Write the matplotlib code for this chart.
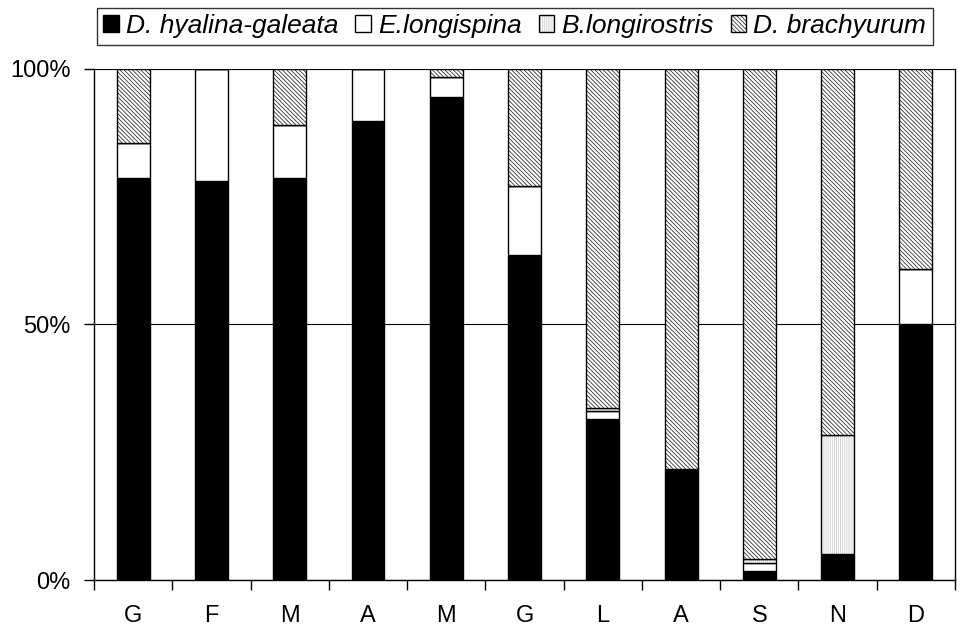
import matplotlib
matplotlib.use("Agg")
import matplotlib.pyplot as plt
import numpy as np

plt.rcParams['font.family'] = ['Liberation Sans', 'DejaVu Sans']
plt.rcParams['hatch.linewidth'] = 0.55

months = ["G", "F", "M", "A", "M", "G", "L", "A", "S", "N", "D"]
species = ["D. hyalina-galeata", "E.longispina", "B.longirostris", "D. brachyurum"]

hyalina = [78.5, 78.0, 78.5, 89.7, 94.4, 63.6, 31.5, 21.5, 1.8, 5.1, 50.0]
longispina = [7.0, 22.0, 10.5, 10.3, 4.0, 13.5, 1.6, 0.3, 1.6, 0.0, 10.9]
longirostris = [0.0, 0.0, 0.0, 0.0, 0.0, 0.0, 0.5, 0.0, 0.7, 23.3, 0.0]
brachyurum = [14.5, 0.0, 11.0, 0.0, 1.6, 22.9, 66.4, 78.2, 95.9, 71.6, 39.1]

series = [hyalina, longispina, longirostris, brachyurum]
styles = [
    dict(facecolor="black", hatch=None),
    dict(facecolor="white", hatch=None),
    dict(facecolor="white", hatch="||||||||", hatch_color="#c8c8c8"),
    dict(facecolor="white", hatch="\\\\\\\\\\\\\\\\", hatch_color="#222222"),
]

fig = plt.figure(figsize=(9.68, 6.31), dpi=100)
ax = fig.add_axes([0.0971, 0.0808, 0.8895, 0.8106])

x = np.arange(len(months))
bottom = np.zeros(len(months))
handles = []
for name, vals, st in zip(species, series, styles):
    vals = np.array(vals, dtype=float)
    bars = ax.bar(x, vals, width=0.42, bottom=bottom, label=name, zorder=3,
                  color=st["facecolor"], edgecolor="black", linewidth=1.0)
    if st["hatch"]:
        for b in bars:
            b.set_hatch(st["hatch"])
            b._hatch_color = matplotlib.colors.to_rgba(st["hatch_color"])
    handles.append(bars)
    bottom += vals

ax.set_xlim(-0.5, len(months) - 0.5)
ax.set_ylim(0, 100)
ax.set_yticks([0, 50, 100])
ax.set_yticklabels(["0%", "50%", "100%"], fontsize=17)
ax.yaxis.grid(True, color="black", linewidth=0.8, zorder=0)
ax.set_axisbelow(True)

ax.set_xticks(x)
ax.set_xticklabels(months, fontsize=17)
ax.tick_params(axis="x", which="major", length=0, pad=18)
ax.set_xticks(np.arange(-0.5, len(months) + 0.5, 1), minor=True)
ax.tick_params(axis="x", which="minor", length=7, width=1, direction="out")
ax.tick_params(axis="y", length=7, width=1, direction="out", pad=10)

for s in ["left", "bottom"]:
    ax.spines[s].set_linewidth(1.0)
for s in ["top", "right"]:
    ax.spines[s].set_visible(False)
ax.plot([1, 1], [0, 1], transform=ax.transAxes, color="black", lw=1.0, clip_on=False)

leg = fig.legend(handles=handles, labels=species, loc="upper left",
                 bbox_to_anchor=(0.1, 0.988), ncol=4, frameon=True,
                 fancybox=False, edgecolor="black",
                 prop=dict(style="italic", size=19),
                 handlelength=0.6, handleheight=0.6, handletextpad=0.25,
                 columnspacing=0.65, borderpad=0.25, borderaxespad=0)
leg.get_frame().set_linewidth(1.0)

fig.savefig("out.png", dpi=100)
